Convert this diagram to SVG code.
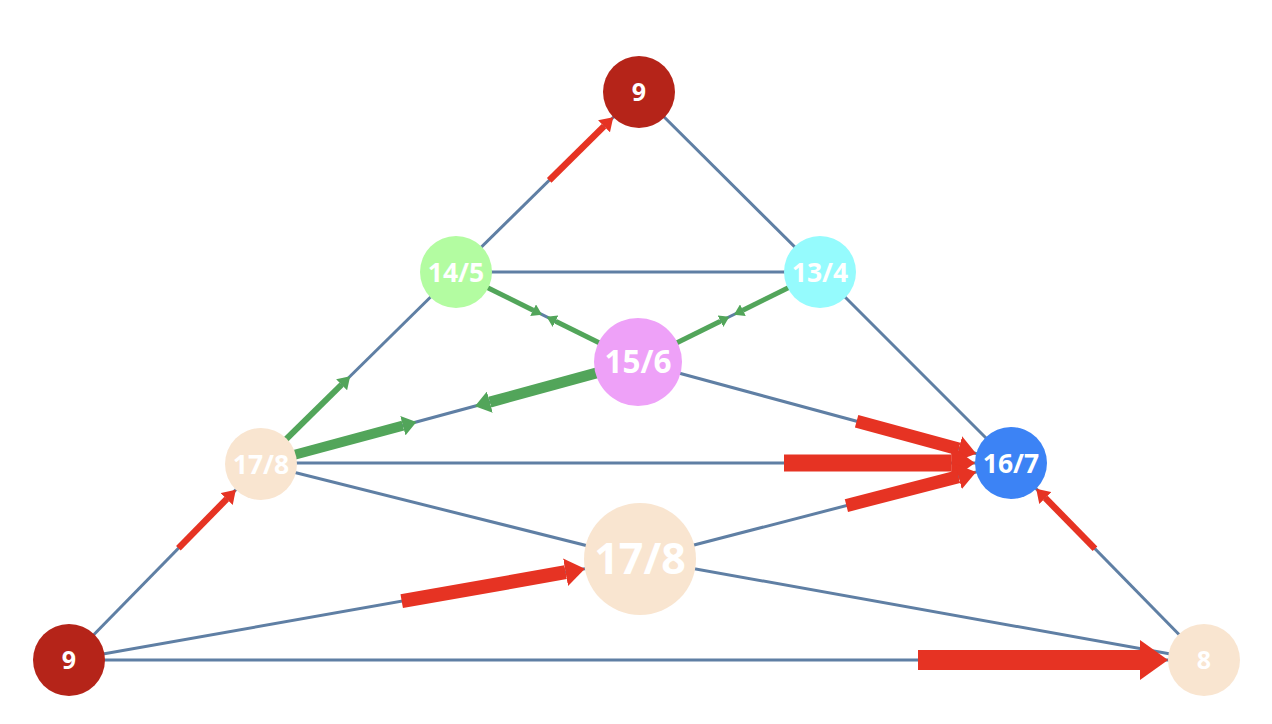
<svg xmlns="http://www.w3.org/2000/svg" width="1272" height="724" viewBox="0 0 1272 724">
<style>
.e{stroke:#5f7fa4;stroke-width:3;fill:none}
.r{stroke:#e63323;fill:none}
.g{stroke:#52a55a;fill:none}
.rk{marker-end:url(#mrk)}
.rt{marker-end:url(#mrt)}
.gk{marker-end:url(#mgk)}
.gt{marker-end:url(#mgt)}
.lb{font-family:"Open Sans","Noto Sans","DejaVu Sans",sans-serif;font-weight:700;fill:#ffffff;text-anchor:middle}
</style>
<defs>
<marker id="mrk" markerUnits="strokeWidth" viewBox="0 0 1.4 2" refX="0" refY="1" markerWidth="1.4" markerHeight="2" orient="auto"><path d="M0,0L1.4,1L0,2z" fill="#e63323"/></marker>
<marker id="mrt" markerUnits="strokeWidth" viewBox="0 0 2 2.6" refX="0" refY="1.3" markerWidth="2" markerHeight="2.6" orient="auto"><path d="M0,0L2,1.3L0,2.6z" fill="#e63323"/></marker>
<marker id="mgk" markerUnits="strokeWidth" viewBox="0 0 1.4 2" refX="0" refY="1" markerWidth="1.4" markerHeight="2" orient="auto"><path d="M0,0L1.4,1L0,2z" fill="#52a55a"/></marker>
<marker id="mgt" markerUnits="strokeWidth" viewBox="0 0 2 2.6" refX="0" refY="1.3" markerWidth="2" markerHeight="2.6" orient="auto"><path d="M0,0L2,1.3L0,2.6z" fill="#52a55a"/></marker>
</defs>
<rect width="1272" height="724" fill="#ffffff"/>
<g id="connectors">
<line class="e" x1="639" y1="92" x2="456" y2="272"/>
<line class="e" x1="639" y1="92" x2="820" y2="272"/>
<line class="e" x1="456" y1="272" x2="820" y2="272"/>
<line class="e" x1="456" y1="272" x2="261" y2="464"/>
<line class="e" x1="261" y1="464" x2="69" y2="660"/>
<line class="e" x1="820" y1="272" x2="1011" y2="463"/>
<line class="e" x1="1011" y1="463" x2="1204" y2="660"/>
<line class="e" x1="456" y1="272" x2="638" y2="362"/>
<line class="e" x1="820" y1="272" x2="638" y2="362"/>
<line class="e" x1="638" y1="362" x2="261" y2="464"/>
<line class="e" x1="638" y1="362" x2="1011" y2="463"/>
<line class="e" x1="261" y1="463" x2="1011" y2="463"/>
<line class="e" x1="261" y1="464" x2="640" y2="559"/>
<line class="e" x1="640" y1="559" x2="1011" y2="463"/>
<line class="e" x1="640" y1="559" x2="1204" y2="660"/>
<line class="e" x1="69" y1="660" x2="640" y2="559"/>
<line class="e" x1="69" y1="660" x2="1204" y2="660"/>
<!-- red arrows -->
<line class="r rt" stroke-width="6.5" x1="178.4" y1="548.3" x2="226.7" y2="499"/>
<line class="r rt" stroke-width="6.5" x1="549.2" y1="180.4" x2="604" y2="126.3"/>
<line class="r rt" stroke-width="6.5" x1="1095" y1="548.7" x2="1045.3" y2="498"/>
<line class="r rk" stroke-width="13" x1="856.6" y1="421.2" x2="958.7" y2="448.9"/>
<line class="r rk" stroke-width="17" x1="784" y1="463" x2="951.2" y2="463"/>
<line class="r rk" stroke-width="13" x1="846.4" y1="505.6" x2="958.5" y2="476.6"/>
<line class="r rk" stroke-width="14" x1="401.7" y1="601.2" x2="565.6" y2="572.2"/>
<line class="r rk" stroke-width="20" x1="918" y1="660" x2="1140" y2="660"/>
<!-- green arrows -->
<line class="g gt" stroke-width="6" x1="283.8" y1="441.5" x2="341.6" y2="384.7"/>
<line class="g gk" stroke-width="10" x1="290" y1="456" x2="402.9" y2="425.7"/>
<line class="g gk" stroke-width="11" x1="600" y1="372" x2="489.8" y2="402.1"/>
<line class="g gt" stroke-width="5" x1="484.7" y1="286.2" x2="533.1" y2="310.2"/>
<line class="g gt" stroke-width="5" x1="602.1" y1="344.3" x2="555.6" y2="321.2"/>
<line class="g gt" stroke-width="5" x1="791.3" y1="286.2" x2="742.9" y2="310.2"/>
<line class="g gt" stroke-width="5" x1="673.9" y1="344.3" x2="720.4" y2="321.2"/>
</g>
<g id="n-top9"><circle cx="639" cy="92" r="36" fill="#b52419"/><text class="lb" x="639" y="101" font-size="25">9</text></g>
<g id="n-145"><circle cx="456" cy="272" r="36" fill="#b3fca1"/><text class="lb" x="456" y="281.5" font-size="26.5">14/5</text></g>
<g id="n-134"><circle cx="820" cy="272" r="36" fill="#95fbfd"/><text class="lb" x="820" y="281.5" font-size="26.5">13/4</text></g>
<g id="n-156"><circle cx="638" cy="362" r="44" fill="#eea1f8"/><text class="lb" x="638" y="373.2" font-size="31.5">15/6</text></g>
<g id="n-178a"><circle cx="261" cy="464" r="36" fill="#f9e5d0"/><text class="lb" x="261" y="473.5" font-size="26.5">17/8</text></g>
<g id="n-167"><circle cx="1011" cy="463" r="36" fill="#3c83f5"/><text class="lb" x="1011" y="472.5" font-size="26.5">16/7</text></g>
<g id="n-178b"><circle cx="640" cy="559" r="56" fill="#f9e5d0"/><text class="lb" x="640" y="574.3" font-size="43">17/8</text></g>
<g id="n-bl9"><circle cx="69" cy="660" r="36" fill="#b52419"/><text class="lb" x="69" y="669" font-size="25">9</text></g>
<g id="n-8"><circle cx="1204" cy="660" r="36" fill="#f9e5d0"/><text class="lb" x="1204" y="669" font-size="25">8</text></g>
</svg>
